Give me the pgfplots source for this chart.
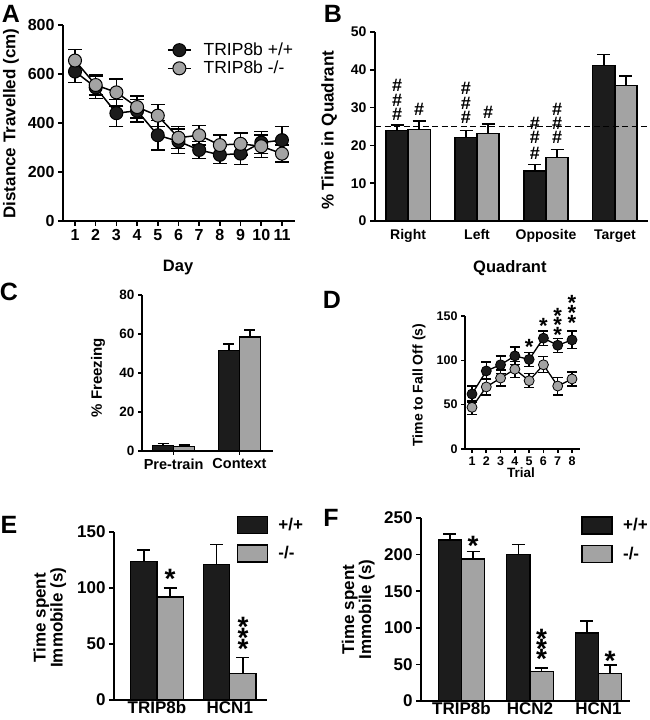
\documentclass[border=0pt]{standalone}
\usepackage{fontspec}
\setmainfont{Liberation Sans}
\usepackage{pgfplots}
\pgfplotsset{compat=1.18}
\definecolor{bk}{HTML}{1C1C1C}
\definecolor{gr}{HTML}{A3A3A3}
\newcommand{\fs}[1]{\fontsize{#1}{#1}\selectfont}
\tikzset{
 hashn/.style={anchor=center, font=\fs{18}\bfseries},
 starn/.style={anchor=center, font=\fs{#1}\bfseries, yshift={-0.22*#1pt}},
}
\pgfplotsset{
 prism/.style={
  scale only axis,
  axis lines=left,
  axis line style={-, line width=1.6pt},
  tick style={black, line width=1.6pt},
  tick align=outside,
  major tick length=5pt,
  /pgf/number format/assume math mode=true,
  clip=false,
  ylabel style={at={(axis description cs:#1)}, anchor=center, rotate=0, align=center},
 },
 barerr/.style={error bars/.cd, y dir=plus, y explicit,
   error bar style={line width=1.5pt, black},
   error mark options={rotate=90, mark size=#1, line width=1.5pt, black}},
 bkbar/.style={ybar, bar shift=0pt, fill=bk, draw=black, line width=1.2pt},
 grbar/.style={ybar, bar shift=0pt, fill=gr, draw=black, line width=1.2pt},
 boxleg/.style={legend image code/.code={\draw[fill=#1,draw=black,line width=1.2pt] (0pt,-8.5pt) rectangle (30pt,8.5pt); \path (40pt,0pt);}},
}
\begin{document}
\begin{tikzpicture}
\useasboundingbox (0pt,0pt) rectangle (650pt,720pt);
% panel letters
\node[font=\fs{25}\bfseries] at (11pt,706pt) {A};
\node[font=\fs{25}\bfseries] at (333pt,706pt) {B};
\node[font=\fs{25}\bfseries] at (9pt,428pt) {C};
\node[font=\fs{25}\bfseries] at (332pt,420pt) {D};
\node[font=\fs{25}\bfseries] at (9pt,195pt) {E};
\node[font=\fs{25}\bfseries] at (331pt,202pt) {F};

% ---------- A ----------
\begin{axis}[prism={-0.224,0.497},
  at={(63pt,499pt)}, anchor=south west, width=232pt, height=196pt,
  xmin=0.42, xmax=11.63, ymin=0, ymax=800,
  xtick={1,...,11}, ytick={0,200,...,800},
  ticklabel style={font=\fs{16}\bfseries},
  ylabel={Distance Travelled (cm)}, ylabel style={font=\fs{17}\bfseries},
  xlabel={Day}, xlabel style={font=\fs{16.5}\bfseries, at={(axis description cs:0.496,-0.235)}, anchor=center},
  legend style={draw=none, fill=none, at={(axis description cs:0.448,0.914)}, anchor=north west,
    font=\fs{17.5}, row sep=2pt, inner sep=0pt, nodes={inner sep=1pt}},
  legend cell align=left,
  legend image code/.code={\draw[mark repeat=2,mark phase=2,#1] plot coordinates {(0pt,0pt)(11.5pt,0pt)(23pt,0pt)}; \path (34pt,0pt);},
]
\addplot[black, line width=1.5pt, mark=*, mark size=6.5pt, mark options={fill=bk, draw=black, line width=1pt},
  error bars/.cd, y dir=both, y explicit, error bar style={line width=1.5pt},
  error mark options={rotate=90, mark size=7pt, line width=1.5pt}]
 coordinates {(1,610)+-(0,45) (2,545)+-(0,45) (3,440)+-(0,55) (4,450)+-(0,45) (5,350)+-(0,60)
  (6,325)+-(0,50) (7,290)+-(0,35) (8,270)+-(0,35) (9,275)+-(0,45) (10,320)+-(0,45) (11,330)+-(0,55)};
\addlegendentry{TRIP8b +/+}
\addplot[black, line width=1.5pt, mark=*, mark size=6.5pt, mark options={fill=gr, draw=black, line width=1pt},
  error bars/.cd, y dir=both, y explicit, error bar style={line width=1.5pt},
  error mark options={rotate=90, mark size=7pt, line width=1.5pt}]
 coordinates {(1,655)+-(0,45) (2,555)+-(0,40) (3,525)+-(0,55) (4,465)+-(0,45) (5,430)+-(0,45)
  (6,340)+-(0,45) (7,350)+-(0,40) (8,310)+-(0,40) (9,315)+-(0,45) (10,305)+-(0,45) (11,275)+-(0,35)};
\addlegendentry{TRIP8b -/-}
\end{axis}

% ---------- B ----------
\begin{axis}[prism={-0.168,0.48},
  at={(375pt,499pt)}, anchor=south west, width=273pt, height=189pt,
  xmin=-0.48, xmax=3.48, ymin=0, ymax=50,
  xtick={0,1,2,3}, xticklabels={Right,Left,Opposite,Target},
  xtick style={draw=none},
  ytick={0,10,...,50},
  ticklabel style={font=\fs{14}\bfseries},
  ylabel={\% Time in Quadrant}, ylabel style={font=\fs{17}\bfseries},
  xlabel={Quadrant}, xlabel style={font=\fs{16.5}\bfseries, at={(axis description cs:0.494,-0.249)}, anchor=center},
  bar width=0.32,
]
\addplot[bkbar, barerr=6.5pt] coordinates {(-0.16,24)+-(0,1.4) (0.84,22.1)+-(0,1.8) (1.84,13.2)+-(0,1.8) (2.84,41.1)+-(0,3.0)};
\addplot[grbar, barerr=6.5pt] coordinates {(0.16,24.3)+-(0,2.2) (1.16,23.1)+-(0,2.5) (2.16,16.9)+-(0,2.0) (3.16,35.8)+-(0,2.5)};
\addplot[black, dashed, dash pattern=on 6pt off 3.5pt, line width=1.5pt] coordinates {(-0.48,25) (3.48,25)};
\node[hashn] at (axis cs:-0.16,36) {\#};
\node[hashn] at (axis cs:-0.16,32) {\#};
\node[hashn] at (axis cs:-0.16,28.1) {\#};
\node[hashn] at (axis cs:0.16,29.4) {\#};
\node[hashn] at (axis cs:0.84,35.2) {\#};
\node[hashn] at (axis cs:0.84,31.2) {\#};
\node[hashn] at (axis cs:0.84,27.5) {\#};
\node[hashn] at (axis cs:1.16,28.8) {\#};
\node[hashn] at (axis cs:1.84,25.7) {\#};
\node[hashn] at (axis cs:1.84,22) {\#};
\node[hashn] at (axis cs:1.84,18) {\#};
\node[hashn] at (axis cs:2.16,29.6) {\#};
\node[hashn] at (axis cs:2.16,25.9) {\#};
\node[hashn] at (axis cs:2.16,22.2) {\#};
\end{axis}

% ---------- C ----------
\begin{axis}[prism={-0.336,0.47},
  at={(142pt,269pt)}, anchor=south west, width=131pt, height=156pt,
  xmin=-0.48, xmax=1.51, ymin=0, ymax=80,
  xtick={0,1}, xticklabels={Pre-train,Context}, major tick length=4pt,
  ytick={0,20,...,80},
  ticklabel style={font=\fs{13.5}\bfseries},
  xticklabel style={font=\fs{14.5}\bfseries},
  ylabel={\% Freezing}, ylabel style={font=\fs{15}\bfseries},
  bar width=0.32,
]
\addplot[bkbar, barerr=5.5pt] coordinates {(-0.16,2.8)+-(0,1.0) (0.84,51.5)+-(0,3.5)};
\addplot[grbar, barerr=5.5pt] coordinates {(0.16,2.2)+-(0,1.0) (1.16,58.5)+-(0,3.5)};
\end{axis}

% ---------- D ----------
\begin{axis}[prism={-0.40,0.48},
  at={(465pt,271pt)}, anchor=south west, width=115pt, height=133pt,
  xmin=0.51, xmax=8.56, ymin=0, ymax=150,
  xtick={1,...,8}, ytick={0,50,100,150}, major tick length=4pt,
  ticklabel style={font=\fs{12.5}\bfseries},
  ylabel={Time to Fall Off (s)}, ylabel style={font=\fs{14}\bfseries},
  xlabel={Trial}, xlabel style={font=\fs{13.5}\bfseries, at={(axis description cs:0.487,-0.18)}, anchor=center},
]
\addplot[black, line width=1.3pt, mark=*, mark size=5pt, mark options={fill=bk, draw=black, line width=0.8pt},
  error bars/.cd, y dir=both, y explicit, error bar style={line width=1.3pt},
  error mark options={rotate=90, mark size=5pt, line width=1.3pt}]
 coordinates {(1,62)+-(0,9) (2,88)+-(0,10) (3,95)+-(0,10) (4,105)+-(0,10) (5,101)+-(0,8) (6,125)+-(0,8) (7,117)+-(0,8) (8,123)+-(0,10)};
\addplot[black, line width=1.3pt, mark=*, mark size=5pt, mark options={fill=gr, draw=black, line width=0.8pt},
  error bars/.cd, y dir=both, y explicit, error bar style={line width=1.3pt},
  error mark options={rotate=90, mark size=5pt, line width=1.3pt}]
 coordinates {(1,47)+-(0,8) (2,70)+-(0,9) (3,80)+-(0,9) (4,90)+-(0,9) (5,77)+-(0,8) (6,95)+-(0,9) (7,71)+-(0,10) (8,79)+-(0,8)};
\node[starn=22] at (axis cs:5,120.7) {*};
\node[starn=22] at (axis cs:6,144) {*};
\node[starn=22] at (axis cs:7,156) {*};
\node[starn=22] at (axis cs:7,145) {*};
\node[starn=22] at (axis cs:7,134) {*};
\node[starn=22] at (axis cs:8,170) {*};
\node[starn=22] at (axis cs:8,159) {*};
\node[starn=22] at (axis cs:8,148) {*};
\end{axis}

% ---------- E ----------
\begin{axis}[prism={-0.42,0.49},
  at={(114pt,20pt)}, anchor=south west, width=153pt, height=168pt,
  xmin=-0.59, xmax=1.51, ymin=0, ymax=150,
  xtick={0,1}, xticklabels={TRIP8b,HCN1}, xtick style={draw=none}, xtick align=inside,
  ytick={0,50,100,150},
  ticklabel style={font=\fs{17}\bfseries},
  xticklabel style={inner sep=1pt},
  ylabel={Time spent\\Immobile (s)}, ylabel style={font=\fs{17}\bfseries},
  bar width=0.36,
  legend style={draw=none, fill=none, at={(axis description cs:0.80,1.095)}, anchor=north west,
    font=\fs{17}\bfseries, row sep=10pt, inner sep=0pt, nodes={inner sep=1pt}},
  legend cell align=left,
]
\addlegendimage{boxleg=bk}
\addlegendentry{+/+}
\addlegendimage{boxleg=gr}
\addlegendentry{-/-}
\addplot[bkbar, forget plot, barerr=6.5pt] coordinates {(-0.18,124)+-(0,10) (0.82,121)+-(0,18)};
\addplot[grbar, forget plot, barerr=6.5pt] coordinates {(0.18,92)+-(0,8) (1.18,24)+-(0,14)};
\node[starn=28] at (axis cs:0.18,114) {*};
\node[starn=28] at (axis cs:1.18,71) {*};
\node[starn=28] at (axis cs:1.18,61) {*};
\node[starn=28] at (axis cs:1.18,51) {*};
\end{axis}

% ---------- F ----------
\begin{axis}[prism={-0.30,0.50},
  at={(421pt,19pt)}, anchor=south west, width=209pt, height=183pt,
  xmin=-0.59, xmax=2.46, ymin=0, ymax=250,
  xtick={0,1,2}, xticklabels={TRIP8b,HCN2,HCN1}, xtick style={draw=none}, xtick align=inside,
  ytick={0,50,...,250},
  ticklabel style={font=\fs{17}\bfseries},
  xticklabel style={inner sep=1pt},
  ylabel={Time spent\\Immobile (s)}, ylabel style={font=\fs{17}\bfseries},
  bar width=0.34,
  legend style={draw=none, fill=none, at={(axis description cs:0.766,1.01)}, anchor=north west,
    font=\fs{17}\bfseries, row sep=10pt, inner sep=0pt, nodes={inner sep=1pt}},
  legend cell align=left,
]
\addlegendimage{boxleg=bk}
\addlegendentry{+/+}
\addlegendimage{boxleg=gr}
\addlegendentry{-/-}
\addplot[bkbar, forget plot, barerr=6.5pt] coordinates {(-0.17,220)+-(0,8) (0.83,200)+-(0,14) (1.83,93)+-(0,16)};
\addplot[grbar, forget plot, barerr=6.5pt] coordinates {(0.17,194)+-(0,10) (1.17,40)+-(0,5) (2.17,38)+-(0,11)};
\node[starn=28] at (axis cs:0.17,221) {*};
\node[starn=28] at (axis cs:1.17,93) {*};
\node[starn=28] at (axis cs:1.17,79) {*};
\node[starn=28] at (axis cs:1.17,66) {*};
\node[starn=28] at (axis cs:2.17,63) {*};
\end{axis}
\end{tikzpicture}
\end{document}
